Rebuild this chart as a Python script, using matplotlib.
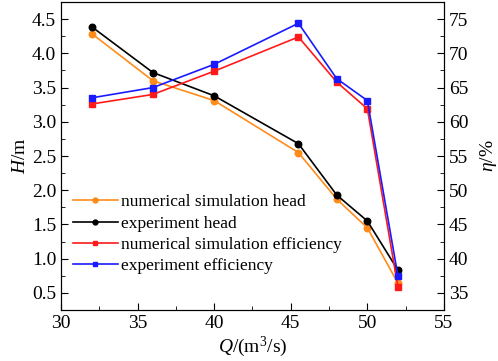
import numpy as np
import matplotlib.pyplot as plt
from matplotlib.ticker import MultipleLocator

plt.rcParams['font.family'] = 'Liberation Serif'
plt.rcParams['mathtext.fontset'] = 'custom'
plt.rcParams['mathtext.rm'] = 'Liberation Serif'
plt.rcParams['mathtext.it'] = 'Liberation Serif:italic'

# datos
Q = [32, 36, 40, 45.5, 48, 50, 52]
H_num = [4.29, 3.60, 3.31, 2.55, 1.87, 1.45, 0.64]
H_exp = [4.39, 3.72, 3.38, 2.68, 1.93, 1.55, 0.83]
eff_num = [62.6, 64.0, 67.4, 72.4, 65.8, 61.9, 35.8]
eff_exp = [63.5, 65.0, 68.4, 74.4, 66.3, 63.1, 37.4]

fig = plt.figure(figsize=(4.98, 3.61), dpi=100)
ax = fig.add_axes([0.1225, 0.1413, 0.769, 0.853])
ax2 = ax.twinx()

l1, = ax.plot(Q, H_num, '-o', color='#FF8C1A', lw=1.2, ms=4.7, label='numerical simulation head')
l2, = ax.plot(Q, H_exp, '-o', color='black', lw=1.2, ms=4.7, label='experiment head')
l3, = ax2.plot(Q, eff_num, '-s', color='#FF1A1A', lw=1.2, ms=4.7, label='numerical simulation efficiency')
l4, = ax2.plot(Q, eff_exp, '-s', color='#1A1AFF', lw=1.2, ms=4.7, label='experiment efficiency')

ax.set_xlim(30, 55)
ax.set_ylim(0.25, 4.75)
ax2.set_ylim(32.5, 77.5)
ax.xaxis.set_major_locator(MultipleLocator(5))
ax.xaxis.set_minor_locator(MultipleLocator(2.5))
ax.yaxis.set_major_locator(MultipleLocator(0.5))
ax.yaxis.set_minor_locator(MultipleLocator(0.25))
ax2.yaxis.set_major_locator(MultipleLocator(5))
ax2.yaxis.set_minor_locator(MultipleLocator(2.5))

for a in (ax, ax2):
    a.tick_params(which='both', direction='in', labelsize=14)
    a.tick_params(which='major', length=5)
    a.tick_params(which='minor', length=3)

ax.set_xlabel('$Q$/(m$^3$/s)', fontsize=14, labelpad=2)
ax.set_ylabel('$H$/m', fontsize=14, labelpad=2)
ax2.set_ylabel('$\\eta$/%', fontsize=14, labelpad=7)

ax.legend(handles=[l1, l2, l3, l4], loc='lower left', bbox_to_anchor=(-0.01, 0.065),
          frameon=False, fontsize=12.5, handlelength=2.6, labelspacing=0.3,
          handletextpad=0.2, markerscale=0.75)

plt.savefig('out.png', dpi=100)
